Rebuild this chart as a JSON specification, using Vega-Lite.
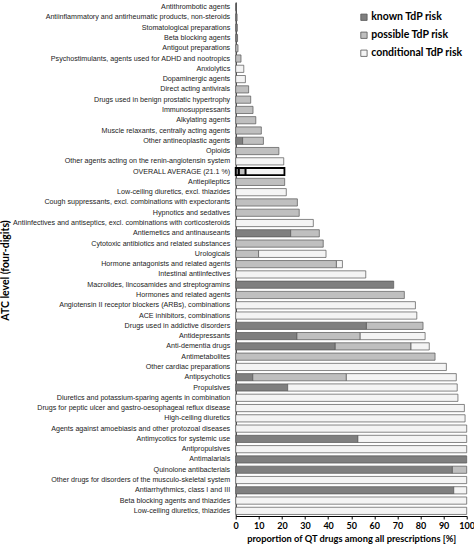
{
  "$schema": "https://vega.github.io/schema/vega-lite/v6.json",
  "width": 231,
  "height": 514,
  "autosize": {"type": "none"},
  "padding": {"left": 235.7, "top": 2, "right": 7.3, "bottom": 29},
  "background": "white",
  "data": {
    "values": [
      {"category": "Antithrombotic agents", "known TdP risk": 0.3, "possible TdP risk": 0, "conditional TdP risk": 0},
      {"category": "Antiinflammatory and antirheumatic products, non-steroids", "known TdP risk": 0.6, "possible TdP risk": 0, "conditional TdP risk": 0},
      {"category": "Stomatological preparations", "known TdP risk": 0.7, "possible TdP risk": 0, "conditional TdP risk": 0},
      {"category": "Beta blocking agents", "known TdP risk": 0.8, "possible TdP risk": 0, "conditional TdP risk": 0},
      {"category": "Antigout preparations", "known TdP risk": 0, "possible TdP risk": 1.0, "conditional TdP risk": 0},
      {"category": "Psychostimulants, agents used for ADHD and nootropics", "known TdP risk": 0, "possible TdP risk": 2.3, "conditional TdP risk": 0},
      {"category": "Anxiolytics", "known TdP risk": 0, "possible TdP risk": 0, "conditional TdP risk": 3.5},
      {"category": "Dopaminergic agents", "known TdP risk": 0, "possible TdP risk": 0, "conditional TdP risk": 4.2},
      {"category": "Direct acting antivirals", "known TdP risk": 0, "possible TdP risk": 5.6, "conditional TdP risk": 0},
      {"category": "Drugs used in benign prostatic hypertrophy", "known TdP risk": 0, "possible TdP risk": 6.5, "conditional TdP risk": 0},
      {"category": "Immunosuppressants", "known TdP risk": 0, "possible TdP risk": 7.5, "conditional TdP risk": 0},
      {"category": "Alkylating agents", "known TdP risk": 0, "possible TdP risk": 8.7, "conditional TdP risk": 0},
      {"category": "Muscle relaxants, centrally acting agents", "known TdP risk": 0, "possible TdP risk": 11.1, "conditional TdP risk": 0},
      {"category": "Other antineoplastic agents", "known TdP risk": 3.0, "possible TdP risk": 9.0, "conditional TdP risk": 0},
      {"category": "Opioids", "known TdP risk": 0, "possible TdP risk": 18.7, "conditional TdP risk": 0},
      {"category": "Other agents acting on the renin-angiotensin system", "known TdP risk": 0, "possible TdP risk": 0, "conditional TdP risk": 20.8},
      {"category": "OVERALL AVERAGE (21.1 %)", "known TdP risk": 1.4, "possible TdP risk": 2.9, "conditional TdP risk": 16.8},
      {"category": "Antiepileptics", "known TdP risk": 0, "possible TdP risk": 21.2, "conditional TdP risk": 0},
      {"category": "Low-ceiling diuretics, excl. thiazides", "known TdP risk": 0, "possible TdP risk": 0, "conditional TdP risk": 21.9},
      {"category": "Cough suppressants, excl. combinations with expectorants", "known TdP risk": 0, "possible TdP risk": 26.7, "conditional TdP risk": 0},
      {"category": "Hypnotics and sedatives", "known TdP risk": 0, "possible TdP risk": 27.5, "conditional TdP risk": 0},
      {"category": "Antiinfectives and antiseptics, excl. combinations with corticosteroids", "known TdP risk": 0, "possible TdP risk": 0, "conditional TdP risk": 33.6},
      {"category": "Antiemetics and antinauseants", "known TdP risk": 23.8, "possible TdP risk": 12.4, "conditional TdP risk": 0},
      {"category": "Cytotoxic antibiotics and related substances", "known TdP risk": 0, "possible TdP risk": 37.9, "conditional TdP risk": 0},
      {"category": "Urologicals", "known TdP risk": 0, "possible TdP risk": 9.9, "conditional TdP risk": 29.2},
      {"category": "Hormone antagonists and related agents", "known TdP risk": 0, "possible TdP risk": 43.6, "conditional TdP risk": 2.6},
      {"category": "Intestinal antiinfectives", "known TdP risk": 0, "possible TdP risk": 0, "conditional TdP risk": 56.3},
      {"category": "Macrolides, lincosamides and streptogramins", "known TdP risk": 68.4, "possible TdP risk": 0, "conditional TdP risk": 0},
      {"category": "Hormones and related agents", "known TdP risk": 0, "possible TdP risk": 73.0, "conditional TdP risk": 0},
      {"category": "Angiotensin II receptor blockers (ARBs), combinations", "known TdP risk": 0, "possible TdP risk": 0, "conditional TdP risk": 77.8},
      {"category": "ACE inhibitors, combinations", "known TdP risk": 0, "possible TdP risk": 0, "conditional TdP risk": 78.4},
      {"category": "Drugs used in addictive disorders", "known TdP risk": 56.6, "possible TdP risk": 24.5, "conditional TdP risk": 0},
      {"category": "Antidepressants", "known TdP risk": 26.5, "possible TdP risk": 27.4, "conditional TdP risk": 28.1},
      {"category": "Anti-dementia drugs", "known TdP risk": 43.1, "possible TdP risk": 32.8, "conditional TdP risk": 7.9},
      {"category": "Antimetabolites", "known TdP risk": 0, "possible TdP risk": 86.3, "conditional TdP risk": 0},
      {"category": "Other cardiac preparations", "known TdP risk": 0, "possible TdP risk": 0, "conditional TdP risk": 91.2},
      {"category": "Antipsychotics", "known TdP risk": 7.4, "possible TdP risk": 40.5, "conditional TdP risk": 47.6},
      {"category": "Propulsives", "known TdP risk": 22.5, "possible TdP risk": 0, "conditional TdP risk": 73.4},
      {"category": "Diuretics and potassium-sparing agents in combination", "known TdP risk": 0, "possible TdP risk": 0, "conditional TdP risk": 96.2},
      {"category": "Drugs for peptic ulcer and gastro-oesophageal reflux disease", "known TdP risk": 0, "possible TdP risk": 0, "conditional TdP risk": 99.0},
      {"category": "High-ceiling diuretics", "known TdP risk": 0, "possible TdP risk": 0, "conditional TdP risk": 99.3},
      {"category": "Agents against amoebiasis and other protozoal diseases", "known TdP risk": 0, "possible TdP risk": 0, "conditional TdP risk": 100},
      {"category": "Antimycotics for systemic use", "known TdP risk": 52.9, "possible TdP risk": 0, "conditional TdP risk": 47.1},
      {"category": "Antipropulsives", "known TdP risk": 0, "possible TdP risk": 0, "conditional TdP risk": 100},
      {"category": "Antimalarials", "known TdP risk": 100, "possible TdP risk": 0, "conditional TdP risk": 0},
      {"category": "Quinolone antibacterials", "known TdP risk": 93.8, "possible TdP risk": 6.2, "conditional TdP risk": 0},
      {"category": "Other drugs for disorders of the musculo-skeletal system", "known TdP risk": 0, "possible TdP risk": 0, "conditional TdP risk": 100},
      {"category": "Antiarrhythmics, class I and III", "known TdP risk": 94.4, "possible TdP risk": 0, "conditional TdP risk": 5.6},
      {"category": "Beta blocking agents and thiazides", "known TdP risk": 0, "possible TdP risk": 0, "conditional TdP risk": 100},
      {"category": "Low-ceiling diuretics, thiazides", "known TdP risk": 0, "possible TdP risk": 0, "conditional TdP risk": 100}
    ]
  },
  "transform": [
    {"fold": ["known TdP risk", "possible TdP risk", "conditional TdP risk"], "as": ["risk", "value"]},
    {"filter": "datum.value > 0"},
    {"calculate": "indexof(['known TdP risk','possible TdP risk','conditional TdP risk'], datum.risk)", "as": "stackOrder"}
  ],
  "mark": {"type": "bar"},
  "encoding": {
    "y": {
      "field": "category",
      "type": "nominal",
      "sort": null,
      "scale": {"paddingInner": 0.3, "paddingOuter": 0.15},
      "axis": {
        "title": "ATC level (four-digits)",
        "titleFont": "Lato",
        "titleFontSize": 10.5,
        "titleFontWeight": "bold",
        "titleColor": "#000",
        "titleAngle": -90,
        "titleX": -230,
        "titleY": 268,
        "titleAlign": "center",
        "titleBaseline": "middle",
        "labelFont": "Liberation Sans",
        "labelFontSize": 7.15,
        "labelColor": "#222",
        "labelPadding": 6,
        "labelLimit": 260,
        "ticks": false,
        "domainColor": "#000",
        "domainWidth": 1,
        "grid": false
      }
    },
    "x": {
      "field": "value",
      "type": "quantitative",
      "stack": "zero",
      "scale": {"domain": [0, 100], "nice": false},
      "axis": {
        "title": "proportion of QT drugs among all prescriptions [%]",
        "titleFont": "Lato",
        "titleFontSize": 9.3,
        "titleFontWeight": "bold",
        "titleColor": "#000",
        "titlePadding": 4,
        "values": [0, 10, 20, 30, 40, 50, 60, 70, 80, 90, 100],
        "labelFont": "Lato",
        "labelFontSize": 9,
        "labelFontWeight": "bold",
        "labelColor": "#000",
        "labelFlush": false,
        "labelPadding": 2,
        "tickColor": "#000",
        "tickSize": 3,
        "domainColor": "#000",
        "domainWidth": 1,
        "grid": false
      }
    },
    "color": {
      "field": "risk",
      "type": "nominal",
      "scale": {
        "domain": ["known TdP risk", "possible TdP risk", "conditional TdP risk"],
        "range": ["#7f7f7f", "#bfbfbf", "#f4f4f4"]
      },
      "legend": {
        "title": null,
        "orient": "none",
        "legendX": 123,
        "legendY": 10,
        "symbolType": "square",
        "symbolSize": 40,
        "symbolStrokeColor": "#555",
        "symbolStrokeWidth": 0.8,
        "labelFont": "Lato",
        "labelFontSize": 10.5,
        "labelFontWeight": "bold",
        "labelColor": "#000",
        "labelOffset": 2,
        "rowPadding": 7
      }
    },
    "order": {"field": "stackOrder", "type": "quantitative"},
    "stroke": {
      "condition": {"test": "datum.category === 'OVERALL AVERAGE (21.1 %)'", "value": "#000"},
      "value": "#555"
    },
    "strokeWidth": {
      "condition": {"test": "datum.category === 'OVERALL AVERAGE (21.1 %)'", "value": 1.8},
      "value": 0.7
    }
  },
  "config": {"view": {"stroke": null}}
}
